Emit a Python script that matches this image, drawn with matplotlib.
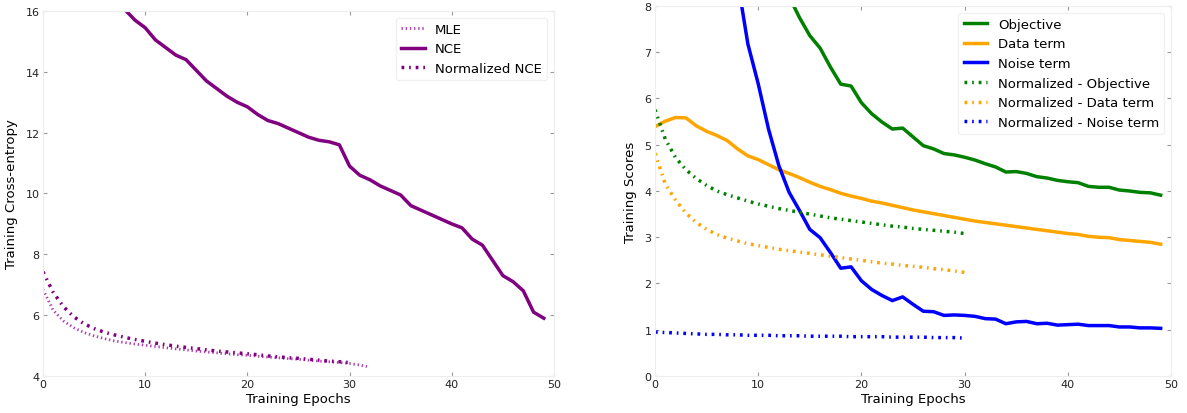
import matplotlib
matplotlib.use("Agg")
import matplotlib.pyplot as plt
import numpy as np

plt.rcParams['lines.scale_dashes'] = False

# left panel: training cross-entropy
epochs = np.arange(50)
nce = [19.9, 19.3, 18.7, 18.2, 17.7, 17.2, 16.8, 16.4, 16.05, 15.7,
       15.45, 15.05, 14.8, 14.55, 14.4, 14.05, 13.7, 13.45, 13.2, 13.0,
       12.85, 12.6, 12.4, 12.3, 12.15, 12.0, 11.85, 11.75, 11.7, 11.6,
       10.9, 10.6, 10.45, 10.25, 10.1, 9.95, 9.6, 9.45, 9.3, 9.15,
       9.0, 8.87, 8.5, 8.3, 7.8, 7.3, 7.1, 6.8, 6.1, 5.9]

mle_epochs = [0, 1, 2, 3, 4, 5, 6, 7, 8, 9, 10, 11, 12, 13, 14, 15, 16,
              17, 18, 19, 20, 21, 22, 23, 24, 25, 26, 27, 28, 29, 30, 31, 31.7]
mle = [6.84, 6.16, 5.81, 5.59, 5.43, 5.32, 5.23, 5.15, 5.10, 5.05,
       5.01, 4.97, 4.93, 4.89, 4.86, 4.82, 4.79, 4.76, 4.73, 4.70,
       4.68, 4.65, 4.62, 4.60, 4.57, 4.55, 4.52, 4.49, 4.47, 4.44,
       4.41, 4.36, 4.31]

norm_epochs = np.arange(31)
norm_nce = [7.43, 6.75, 6.28, 5.95, 5.72, 5.56, 5.44, 5.35, 5.27, 5.20,
            5.14, 5.08, 5.03, 4.98, 4.94, 4.90, 4.86, 4.82, 4.79, 4.76,
            4.73, 4.70, 4.66, 4.63, 4.60, 4.58, 4.55, 4.52, 4.49, 4.47, 4.44]

# right panel: training scores
objective = [13.5, 12.6, 11.8, 11.1, 10.5, 10.0, 9.6, 9.3, 9.05, 8.85,
             8.65, 8.5, 8.35, 8.2, 7.75, 7.36, 7.09, 6.68, 6.31, 6.27,
             5.91, 5.67, 5.49, 5.34, 5.36, 5.17, 4.98, 4.91, 4.81, 4.78,
             4.73, 4.67, 4.59, 4.52, 4.41, 4.42, 4.38, 4.31, 4.28, 4.23,
             4.20, 4.18, 4.10, 4.08, 4.08, 4.02, 4.00, 3.97, 3.96, 3.91]
data_term = [5.39, 5.51, 5.59, 5.58, 5.41, 5.29, 5.20, 5.09, 4.91, 4.76,
             4.68, 4.57, 4.46, 4.38, 4.29, 4.19, 4.10, 4.03, 3.95, 3.89,
             3.84, 3.78, 3.74, 3.69, 3.64, 3.59, 3.55, 3.51, 3.47, 3.43,
             3.39, 3.35, 3.32, 3.29, 3.26, 3.23, 3.20, 3.17, 3.14, 3.11,
             3.08, 3.06, 3.02, 3.00, 2.99, 2.95, 2.93, 2.91, 2.89, 2.85]
noise_term = [16.0, 14.6, 13.3, 12.2, 11.2, 10.4, 9.7, 9.1, 8.55, 7.18,
              6.32, 5.34, 4.55, 3.97, 3.58, 3.17, 2.99, 2.67, 2.33, 2.36,
              2.06, 1.87, 1.74, 1.63, 1.71, 1.55, 1.40, 1.39, 1.31, 1.32,
              1.31, 1.29, 1.24, 1.23, 1.13, 1.17, 1.18, 1.13, 1.14, 1.10,
              1.11, 1.12, 1.09, 1.09, 1.09, 1.06, 1.06, 1.04, 1.04, 1.03]

norm_objective = [5.76, 5.12, 4.72, 4.46, 4.27, 4.12, 4.00, 3.92, 3.85, 3.78,
                  3.72, 3.67, 3.62, 3.58, 3.54, 3.50, 3.46, 3.42, 3.39, 3.36,
                  3.33, 3.30, 3.27, 3.24, 3.22, 3.19, 3.17, 3.15, 3.13, 3.11, 3.08]
norm_data = [4.82, 4.15, 3.80, 3.52, 3.32, 3.17, 3.06, 2.98, 2.92, 2.86,
             2.82, 2.78, 2.74, 2.71, 2.68, 2.65, 2.62, 2.59, 2.56, 2.53,
             2.50, 2.47, 2.44, 2.42, 2.39, 2.37, 2.35, 2.32, 2.30, 2.27, 2.24]
norm_noise = [0.95, 0.94, 0.93, 0.92, 0.91, 0.90, 0.90, 0.89, 0.89, 0.88,
              0.88, 0.88, 0.87, 0.87, 0.87, 0.86, 0.86, 0.86, 0.86, 0.85,
              0.85, 0.85, 0.85, 0.84, 0.84, 0.84, 0.84, 0.83, 0.83, 0.83, 0.82]

dotted = (0, (1, 2))
dashdot = (0, (2, 3.5, 1.2, 3.5))


def style_axes(ax):
    for s in ax.spines.values():
        s.set_color('#eeeeee')
    ax.tick_params(direction='in', top=True, right=True, color='#999999',
                   length=3, width=0.8, labelsize=8, labelcolor='#222222', pad=2.5)


fig = plt.figure(figsize=(11.87, 4.14), dpi=100)
ax1 = fig.add_axes([0.0362, 0.0894, 0.4305, 0.8816])
ax2 = fig.add_axes([0.5518, 0.0894, 0.4347, 0.8937])

ax1.plot(mle_epochs, mle, linestyle=dotted, linewidth=2, color='#b040b0', label='MLE')
ax1.plot(epochs, nce, linestyle='-', linewidth=2.5, color='purple', label='NCE')
ax1.plot(norm_epochs, norm_nce, linestyle=dashdot, linewidth=2.5, color='purple',
         label='Normalized NCE')
ax1.set_xlim(0, 50)
ax1.set_ylim(4, 16)
ax1.set_xlabel('Training Epochs', fontsize=9.5, labelpad=2)
ax1.set_ylabel('Training Cross-entropy', fontsize=9.5, labelpad=5)
style_axes(ax1)
leg1 = ax1.legend(loc='upper right', fontsize=9.5, handlelength=1.8, borderaxespad=0.5)
leg1.get_frame().set_edgecolor('#eeeeee')

ax2.plot(epochs, objective, '-', linewidth=2.5, color='green', label='Objective')
ax2.plot(epochs, data_term, '-', linewidth=2.5, color='orange', label='Data term')
ax2.plot(epochs, noise_term, '-', linewidth=2.5, color='blue', label='Noise term')
ax2.plot(norm_epochs, norm_objective, linestyle=dashdot, linewidth=2.5, color='green',
         label='Normalized - Objective')
ax2.plot(norm_epochs, norm_data, linestyle=dashdot, linewidth=2.5, color='orange',
         label='Normalized - Data term')
ax2.plot(norm_epochs, norm_noise, linestyle=dashdot, linewidth=2.5, color='blue',
         label='Normalized - Noise term')
ax2.set_xlim(0, 50)
ax2.set_ylim(0, 8)
ax2.set_xlabel('Training Epochs', fontsize=9.5, labelpad=2)
ax2.set_ylabel('Training Scores', fontsize=9.5, labelpad=5)
style_axes(ax2)
leg2 = ax2.legend(loc='upper right', fontsize=9.5, handlelength=1.8, borderaxespad=0.5)
leg2.get_frame().set_edgecolor('#eeeeee')

fig.savefig('out.png', dpi=100)
